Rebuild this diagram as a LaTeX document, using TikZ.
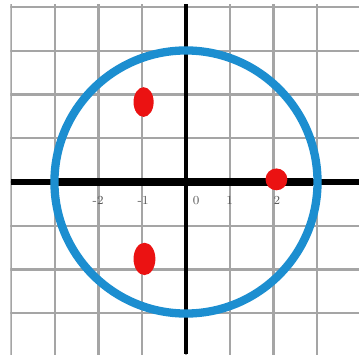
\documentclass[tikz,border=0pt]{standalone}
\usetikzlibrary{shapes.geometric}
\definecolor{ringblue}{RGB}{28,142,208}
\definecolor{dotred}{RGB}{235,18,18}
\definecolor{gridgray}{RGB}{165,165,165}
\definecolor{labgray}{RGB}{90,90,90}
\begin{document}
\begin{tikzpicture}[
  gridline/.style={draw=gridgray,line width=1.5pt},
  axisline/.style={draw=black,line width=3.3pt},
  ring/.style={draw=ringblue,line width=5.4pt},
  dotmark/.style={ellipse,fill=dotred,inner sep=0pt},
  ticklab/.style={text=labgray,font=\footnotesize,inner sep=0pt}
]
\useasboundingbox (-4.256,-3.936) rectangle (3.959,4.165);
\fill[white] (-4.256,-3.936) rectangle (3.959,4.165);
\begin{scope}
\clip (-4.02,-3.94) rectangle (3.96,4.07);
\foreach \x in {-4,...,3} \draw[gridline] (\x,-4) -- (\x,4.2);
\foreach \y in {-3,...,4} \draw[gridline] (-4.1,\y) -- (4,\y);
\end{scope}
% axes
\coordinate (xl) at (-4.0,0);
\coordinate (xr) at (3.96,0);
\coordinate (yt) at (0,4.07);
\coordinate (yb) at (0,-3.94);
\draw[axisline] (xl) -- (xr);
\draw[draw=black,line width=4.6pt] (-3,0) -- (2.9,0);
\draw[draw=black,line width=3pt] (yt) -- (yb);
% circle
\node[circle,ring,minimum size=6.02cm,inner sep=0pt] (c) at (0,0) {};
% tick labels
\node[ticklab] (l2m) at (-2.01,-0.42) {-2};
\node[ticklab] (l1m) at (-0.98,-0.42) {-1};
\node[ticklab] (l0) at (0.23,-0.42) {0};
\node[ticklab] (l1) at (1.0,-0.42) {1};
\node[ticklab] (l2) at (2.08,-0.42) {2};
% red points
\node[dotmark,minimum width=0.46cm,minimum height=0.68cm] (p1) at (-0.97,1.83) {};
\node[dotmark,minimum width=0.5cm,minimum height=0.74cm] (p2) at (-0.95,-1.76) {};
\node[dotmark,minimum width=0.5cm,minimum height=0.5cm] (p3) at (2.07,0.06) {};
\end{tikzpicture}
\end{document}
